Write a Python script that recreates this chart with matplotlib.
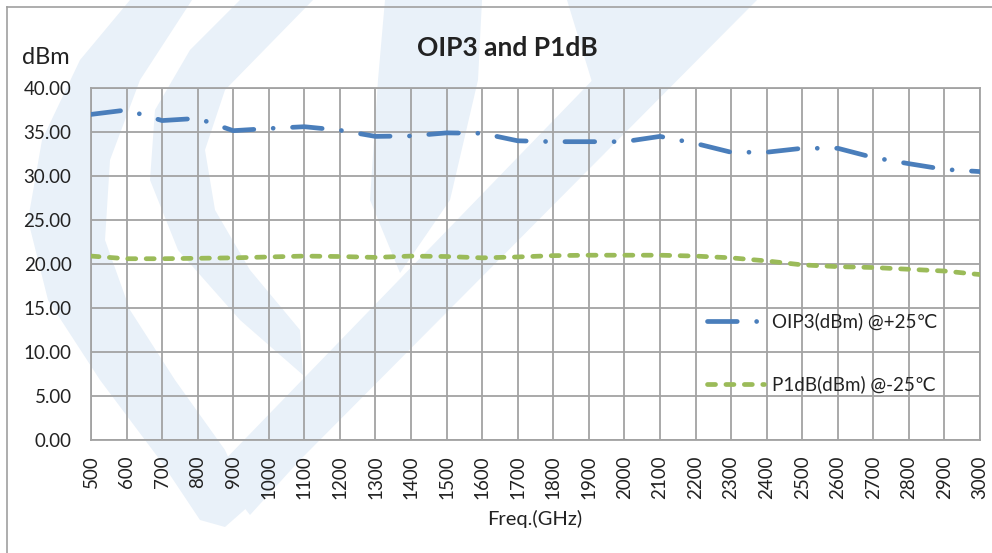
import matplotlib
matplotlib.use("Agg")
import matplotlib.pyplot as plt
from matplotlib.patches import Polygon
from matplotlib.lines import Line2D
import numpy as np

plt.rcParams['font.family'] = ['Lato', 'DejaVu Sans']

# ---- data ----
freqs = [500, 600, 700, 800, 900, 1000, 1100, 1200, 1300, 1400, 1500, 1600, 1700,
         1800, 1900, 2000, 2100, 2200, 2300, 2400, 2500, 2600, 2700, 2800, 2900, 3000]
oip3 = [37.0, 37.5, 36.3, 36.55, 35.15, 35.4, 35.6, 35.2, 34.5, 34.55, 34.9, 34.85, 34.0,
        33.9, 33.9, 33.9, 34.5, 33.7, 32.7, 32.7, 33.15, 33.15, 32.1, 31.4, 30.75, 30.5]
p1db = [20.9, 20.6, 20.6, 20.65, 20.7, 20.8, 20.9, 20.85, 20.75, 20.9, 20.85, 20.7, 20.8,
        20.95, 21.0, 21.0, 21.0, 20.9, 20.7, 20.35, 19.9, 19.7, 19.6, 19.4, 19.2, 18.8]
yticks = [0, 5, 10, 15, 20, 25, 30, 35, 40]
series_labels = ["OIP3(dBm) @+25\u2103", "P1dB(dBm) @-25\u2103"]
title = "OIP3 and P1dB"
ylabel = "dBm"
xlabel = "Freq.(GHz)"

W, H = 992, 553
fig = plt.figure(figsize=(W / 100, H / 100), dpi=100)
fig.patch.set_facecolor('white')

def px(x, y):
    return (x / W, 1 - y / H)

# watermark (faint logo)
wm_color = '#e9f1f9'
shapes = [
    [(130, 0), (80, 60), (42, 140), (28, 220), (48, 300), (100, 380), (160, 460), (200, 520),
     (225, 527), (250, 505), (225, 450), (175, 380), (130, 310), (105, 240), (110, 160),
     (140, 80), (192, 0)],
    [(240, 0), (190, 50), (155, 110), (150, 180), (178, 250), (240, 320), (303, 375),
     (300, 330), (250, 270), (215, 210), (205, 150), (225, 90), (313, 0)],
    [(385, 0), (482, 0), (478, 80), (450, 200), (400, 273), (370, 200), (378, 80)],
    [(567, 0), (680, 0), (592, 82)],
    [(670, 0), (757, 0), (300, 460), (250, 515), (215, 470)],
]
for s in shapes:
    fig.add_artist(Polygon([px(x, y) for x, y in s], closed=True, transform=fig.transFigure,
                           facecolor=wm_color, edgecolor='none', zorder=0.2))

# chart border
fig.add_artist(Line2D([px(7, 0)[0], px(7, 0)[0]], [px(0, 7)[1], 0], transform=fig.transFigure,
                      color='#a0a0a0', lw=1.2, zorder=0.3))
fig.add_artist(Line2D([px(7, 0)[0], 1], [px(0, 7)[1], px(0, 7)[1]], transform=fig.transFigure,
                      color='#a0a0a0', lw=1.2, zorder=0.3))

left, right, top, bottom = 91, 980, 88, 440
ax = fig.add_axes([left / W, 1 - bottom / H, (right - left) / W, (bottom - top) / H])
ax.set_zorder(1)
ax.patch.set_alpha(0)

grid_c = '#a3a3a3'
lw = 3.4
l1, = ax.plot(freqs, oip3, color='#4a7ebb', lw=lw, solid_capstyle='round',
              dash_capstyle='round', zorder=3, label=series_labels[0])
l1.set_linestyle((0, (6.3, 4.1, 0.01, 4.1)))
l2, = ax.plot(freqs, p1db, color='#9bbb59', lw=lw, dash_capstyle='round', zorder=3,
              label=series_labels[1])
l2.set_linestyle((0, (1.7, 2.2)))

ax.set_xlim(freqs[0], freqs[-1])
ax.set_ylim(0, 40)
ax.set_xticks(freqs)
ax.set_xticklabels([str(f) for f in freqs], rotation=90, va='top', ha='center')
ax.set_yticks(yticks)
ax.set_yticklabels([f"{v:.2f}" for v in yticks])
ax.tick_params(axis='both', length=0, labelsize=13.5, colors='#222222')
ax.tick_params(axis='x', pad=11)
ax.tick_params(axis='y', pad=14)
ax.grid(True, color=grid_c, lw=1.3, zorder=1)
for sp in ax.spines.values():
    sp.set_color(grid_c)
    sp.set_linewidth(1.3)

leg = ax.legend(loc='upper left', bbox_to_anchor=((700 - left) / (right - left), (bottom - 305) / (bottom - top)),
                frameon=False, fontsize=13.5, handlelength=3.0, handletextpad=0.45,
                labelspacing=2.4, borderaxespad=0)
for t in leg.get_texts():
    t.set_color('#222222')

fig.text(507 / W, 1 - 48 / H, title, ha='center', va='center', fontsize=19,
         fontweight='bold', color='#222222')
fig.text(22 / W, 1 - 57 / H, ylabel, ha='left', va='center', fontsize=17, color='#222222')
fig.text(535 / W, 1 - 519 / H, xlabel, ha='center', va='center', fontsize=14.5, color='#222222')

fig.savefig('out.png', dpi=100, facecolor='white')
